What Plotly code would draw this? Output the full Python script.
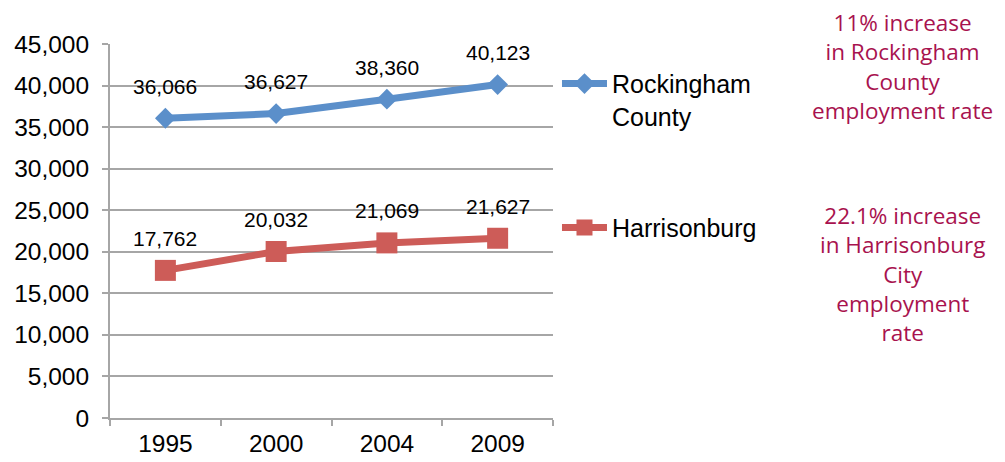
import plotly.graph_objects as go

years = ["1995", "2000", "2004", "2009"]
rockingham = [36066, 36627, 38360, 40123]
harrisonburg = [17762, 20032, 21069, 21627]
y_ticks = [0, 5000, 10000, 15000, 20000, 25000, 30000, 35000, 40000, 45000]
note_rock = "11% increase<br>in Rockingham<br>County<br>employment rate"
note_harr = "22.1% increase<br>in Harrisonburg<br>City<br>employment<br>rate"

BLUE = "#5B8FCA"
RED = "#CD5C58"
GRID = "#A6A6A6"
NOTE = "#A8124E"
FONT = "Liberation Sans, Arial"

fig = go.Figure()
fig.add_trace(go.Scatter(
    x=years, y=rockingham, name="Rockingham<br>County", mode="lines+markers",
    line=dict(color=BLUE, width=7), marker=dict(symbol="diamond", size=16, color=BLUE),
    legend="legend", showlegend=True))
fig.add_trace(go.Scatter(
    x=years, y=harrisonburg, name="Harrisonburg", mode="lines+markers",
    line=dict(color=RED, width=7), marker=dict(symbol="square", size=21, color=RED),
    legend="legend2", showlegend=True))

for series in (rockingham, harrisonburg):
    for i, yv in enumerate(series):
        fig.add_annotation(x=i, y=yv, text=f"{yv:,}", showarrow=False, yshift=32,
                           font=dict(family=FONT, size=21, color="black"))

fig.add_annotation(xref="paper", yref="paper", x=1.79, y=1.105, text=note_rock, showarrow=False,
                   xanchor="center", yanchor="top", align="center",
                   font=dict(family="Open Sans", size=22.5, color=NOTE))
fig.add_annotation(xref="paper", yref="paper", x=1.79, y=0.587, text=note_harr, showarrow=False,
                   xanchor="center", yanchor="top", align="center",
                   font=dict(family="Open Sans", size=22.5, color=NOTE))

fig.update_layout(
    width=997, height=454,
    margin=dict(l=102, r=452, t=36, b=44, autoexpand=False),
    paper_bgcolor="white", plot_bgcolor="white",
    font=dict(family=FONT, size=24, color="black"),
    showlegend=True,
    legend=dict(x=1.009, y=0.955, xanchor="left", yanchor="top", valign="top",
                itemwidth=45, font=dict(family=FONT, size=25), bgcolor="rgba(0,0,0,0)"),
    legend2=dict(x=1.009, y=0.57, xanchor="left", yanchor="top", valign="top",
                 itemwidth=45, font=dict(family=FONT, size=25), bgcolor="rgba(0,0,0,0)"),
    xaxis=dict(type="category", range=[-0.5, 3.5], showgrid=False, showline=True,
               linecolor=GRID, linewidth=2, ticks="outside", tickcolor=GRID, ticklen=6,
               tickwidth=2, tickson="boundaries", automargin=False, ticklabelstandoff=3,
               tickfont=dict(family=FONT, size=24.5)),
    yaxis=dict(range=[0, 45000], tickvals=y_ticks, tickformat=",", showgrid=True,
               gridcolor=GRID, gridwidth=2, showline=True, linecolor=GRID, linewidth=2,
               ticks="outside", tickcolor=GRID, ticklen=6, tickwidth=2, automargin=False,
               ticklabelstandoff=8, tickfont=dict(family=FONT, size=24.5), zeroline=False),
)

fig.write_html("out.html")
